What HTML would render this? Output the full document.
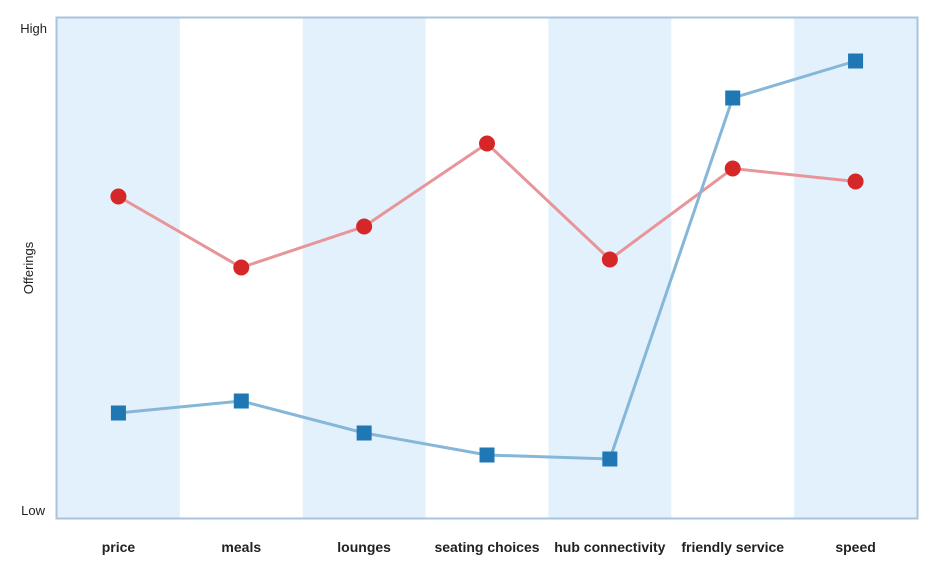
<!DOCTYPE html>
<html><head><meta charset="utf-8"><style>
body{margin:0;background:#fff;font-family:"Liberation Sans",sans-serif;}
svg{display:block}
</style></head><body>
<svg id="chart" width="930" height="572" xmlns="http://www.w3.org/2000/svg"></svg>
<script>
const categories=["price","meals","lounges","seating choices","hub connectivity","friendly service","speed"];
const redValues=[64.3,50.1,58.3,74.9,51.7,69.9,67.3];
const blueValues=[21.0,23.4,17.0,12.6,11.8,84.0,91.4];
const yTickLabels=["Low","High"];
const svg=document.getElementById('chart');
const NS='http://www.w3.org/2000/svg';
const L=57,R=917,T=18,B=518;
const bw=(R-L)/categories.length;
function x(i){return L+bw*(i+0.5);}
function y(v){return B-v*(B-T)/100;}
function mk(tag,attrs,parent){const e=document.createElementNS(NS,tag);for(const k in attrs)e.setAttribute(k,attrs[k]);(parent||svg).appendChild(e);return e;}
categories.forEach((c,i)=>{
  if(i%2===0){const r=mk('rect',{x:L+bw*i,y:T,width:bw,height:B-T,fill:'#e3f1fd'});
  
  }
  const t=mk('text',{x:x(i),y:552,'text-anchor':'middle','font-size':14,'font-weight':'bold',fill:'#222'});
  t.textContent=c;
  
  
});
const frame=mk('rect',{x:L-0.5,y:T-0.5,width:R-L+1,height:B-T+1,fill:'none',stroke:'#a9c4dc','stroke-width':2});


const lo=mk('text',{x:45,y:515,'text-anchor':'end','font-size':13,fill:'#222'});lo.textContent=yTickLabels[0];


const hi=mk('text',{x:47,y:33,'text-anchor':'end','font-size':13,fill:'#222'});hi.textContent=yTickLabels[1];


const yt=mk('text',{x:0,y:0,transform:'translate(33,268) rotate(-90)','text-anchor':'middle','font-size':13,fill:'#222'});yt.textContent='Offerings';


function series(vals,lineColor,markColor,shape,name){
  const pl=mk('polyline',{points:vals.map((v,i)=>x(i)+','+y(v)).join(' '),fill:'none',stroke:lineColor,'stroke-width':3});
  
  
  vals.forEach((v,i)=>{
    let m;
    if(shape==='circle')m=mk('circle',{cx:x(i),cy:y(v),r:8,fill:markColor});
    else m=mk('rect',{x:x(i)-7.5,y:y(v)-7.5,width:15,height:15,fill:markColor});
    
    
  });
}
series(redValues,'#e8959a','#d62728','circle','red-series');
series(blueValues,'#86b7d9','#1f77b4','square','blue-series');
</script>
</body></html>
